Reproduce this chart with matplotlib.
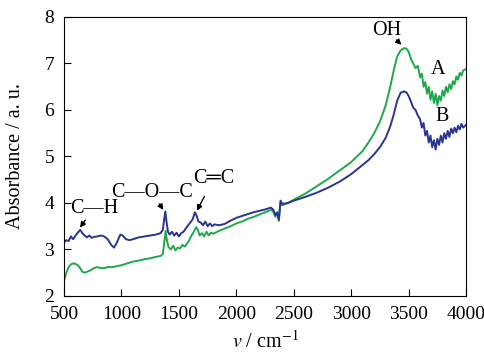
import matplotlib
matplotlib.use('Agg')
from matplotlib import pyplot as plt
import numpy as np

plt.rcParams['font.family'] = ['Liberation Serif', 'DejaVu Serif']
plt.rcParams['mathtext.fontset'] = 'stix'

# sample A (green)
wn_a = [500, 520, 540, 560, 580, 600, 620, 640, 660, 680, 700, 730, 760, 790, 820, 850, 880, 920, 960,
        1000, 1050, 1100, 1150, 1200, 1250, 1300, 1340, 1360, 1375, 1385, 1395, 1410, 1430, 1450, 1470,
        1490, 1510, 1530, 1550, 1570, 1590, 1610, 1630, 1650, 1665, 1680, 1700, 1720, 1740, 1760, 1780,
        1800, 1850, 1900, 1950, 2000, 2050, 2100, 2150, 2200, 2250, 2300, 2320, 2340, 2355, 2370, 2385,
        2400, 2450, 2500, 2600, 2700, 2800, 2900, 3000, 3050, 3100, 3150, 3200, 3250, 3300, 3340, 3370,
        3400, 3430, 3460, 3480, 3500, 3520, 3540, 3560, 3580, 3600, 3615, 3630, 3645, 3660, 3675, 3690,
        3705, 3720, 3735, 3750, 3765, 3780, 3795, 3810, 3825, 3840, 3855, 3870, 3885, 3900, 3915, 3930,
        3945, 3960, 3975, 4000]
abs_a = [2.32, 2.5, 2.62, 2.68, 2.7, 2.69, 2.66, 2.6, 2.52, 2.5, 2.52, 2.55, 2.6, 2.62, 2.6, 2.6, 2.62, 2.62, 2.64,
         2.66, 2.7, 2.74, 2.76, 2.79, 2.81, 2.84, 2.86, 2.9, 3.2, 3.4, 3.2, 3.05, 3.0, 3.08, 2.98,
         3.04, 3.02, 3.1, 3.06, 3.12, 3.2, 3.3, 3.38, 3.48, 3.42, 3.3, 3.35, 3.28, 3.38, 3.3, 3.36,
         3.34, 3.4, 3.45, 3.5, 3.56, 3.6, 3.66, 3.7, 3.75, 3.8, 3.85, 3.82, 3.7, 3.78, 3.65, 4.02,
         3.95, 4.0, 4.07, 4.2, 4.36, 4.52, 4.7, 4.88, 5.0, 5.12, 5.3, 5.5, 5.75, 6.1, 6.5, 6.85,
         7.15, 7.28, 7.33, 7.32, 7.25, 7.1, 7.0, 6.9, 6.95, 6.7, 6.78, 6.5, 6.6, 6.35, 6.5, 6.22,
         6.4, 6.15, 6.35, 6.1, 6.3, 6.2, 6.42, 6.3, 6.5, 6.38, 6.55, 6.45, 6.62, 6.55, 6.72, 6.65,
         6.8, 6.74, 6.85, 6.88]

# sample B (blue)
wn_b = [500, 520, 540, 560, 580, 600, 620, 640, 660, 680, 700, 720, 740, 760, 790, 820, 850, 880, 910, 935,
        960, 990, 1010, 1040, 1070, 1100, 1150, 1200, 1250, 1300, 1340, 1360, 1372, 1382, 1392, 1405,
        1420, 1440, 1460, 1480, 1500, 1520, 1540, 1560, 1580, 1600, 1620, 1640, 1655, 1670, 1690, 1710,
        1730, 1750, 1770, 1790, 1810, 1850, 1900, 1950, 2000, 2050, 2100, 2150, 2200, 2250, 2300, 2320,
        2340, 2355, 2370, 2385, 2400, 2450, 2500, 2600, 2700, 2800, 2900, 3000, 3050, 3100, 3150, 3200,
        3250, 3300, 3340, 3370, 3400, 3430, 3460, 3480, 3500, 3520, 3540, 3560, 3580, 3600, 3615, 3630,
        3645, 3660, 3675, 3690, 3705, 3720, 3735, 3750, 3765, 3780, 3795, 3810, 3825, 3840, 3855, 3870,
        3885, 3900, 3915, 3930, 3945, 3960, 3975, 4000]
abs_b = [3.15, 3.2, 3.18, 3.28, 3.22, 3.3, 3.36, 3.42, 3.35, 3.3, 3.26, 3.3, 3.25, 3.27, 3.28, 3.3, 3.28, 3.22, 3.1, 3.04,
         3.15, 3.32, 3.3, 3.22, 3.2, 3.22, 3.26, 3.28, 3.3, 3.32, 3.35, 3.42, 3.65, 3.82, 3.6, 3.38,
         3.32, 3.38, 3.3, 3.36, 3.28, 3.35, 3.38, 3.45, 3.52, 3.58, 3.65, 3.8, 3.72, 3.6, 3.58, 3.52,
         3.6, 3.5, 3.56, 3.5, 3.54, 3.52, 3.55, 3.62, 3.68, 3.72, 3.76, 3.8, 3.83, 3.86, 3.9, 3.86,
         3.74, 3.8, 3.62, 4.05, 3.98, 4.0, 4.05, 4.13, 4.22, 4.33, 4.46, 4.62, 4.72, 4.82, 4.92, 5.05,
         5.2, 5.4, 5.65, 5.9, 6.2, 6.37, 6.4, 6.38, 6.3, 6.18, 6.05, 6.0, 5.88, 5.8, 5.62, 5.72,
         5.45, 5.55, 5.3, 5.45, 5.2, 5.35, 5.15, 5.38, 5.25, 5.45, 5.3, 5.5, 5.38, 5.55, 5.42, 5.6,
         5.5, 5.62, 5.52, 5.66, 5.58, 5.7, 5.62, 5.68]

xticks = [500, 1000, 1500, 2000, 2500, 3000, 3500, 4000]
yticks = [2, 3, 4, 5, 6, 7, 8]

# band labels: text, text pos, arrow tip
bands = [
    ('C\u2014H', (760, 3.89), (625, 3.42)),
    ('C\u2014O\u2014C', (1266, 4.22), (1378, 3.8)),
    ('C\u2550C', (1806, 4.53), (1645, 3.78)),
    ('OH', (3312, 7.7), (3455, 7.36)),
]

fig = plt.figure(figsize=(4.85, 3.54), dpi=100)
ax = fig.add_axes([0.132, 0.164, 0.829, 0.788])

ax.plot(wn_a, abs_a, color='#1fa84a', lw=1.4)
ax.plot(wn_b, abs_b, color='#2b3493', lw=1.4)

for txt, pos, tip in bands:
    ax.text(pos[0], pos[1], txt, fontsize=14.5, ha='center', va='center')
    ax.annotate('', xy=tip, xytext=(tip[0] + (pos[0] - tip[0]) * 0.55, tip[1] + (pos[1] - tip[1]) * 0.55),
                arrowprops=dict(arrowstyle='-|>', color='black', lw=1.0, mutation_scale=8))

ax.text(3755, 6.87, 'A', fontsize=14.5, ha='center', va='center')
ax.text(3790, 5.85, 'B', fontsize=14.5, ha='center', va='center')

ax.set_xlim(500, 4000)
ax.set_ylim(2, 8)
ax.set_xticks(xticks)
ax.set_yticks(yticks)
ax.tick_params(direction='in', length=5, labelsize=14, top=False, right=False)
ax.tick_params(axis='x', pad=7)
ax.tick_params(axis='y', pad=7)
ax.set_xlabel('$v$ / cm$^{-1}$', fontsize=14.5, labelpad=6)
ax.set_ylabel('Absorbance / a. u.', fontsize=14.5, labelpad=14)

fig.savefig('out.png', dpi=100)
